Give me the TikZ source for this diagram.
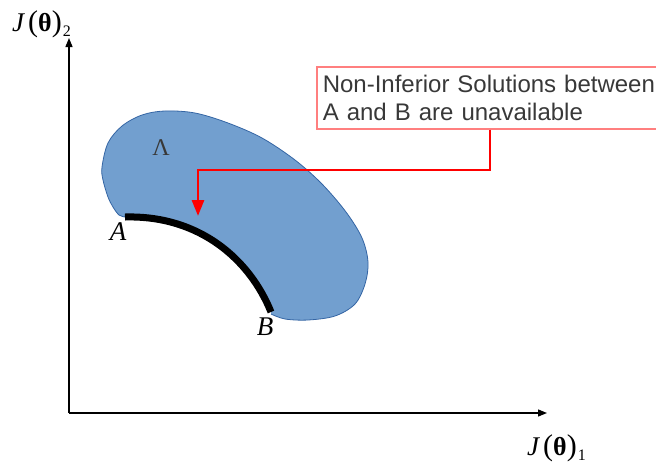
\documentclass[tikz,border=0pt]{standalone}
\usepackage{fontspec}
\setmainfont{Liberation Sans}
\newfontfamily\lserif{Liberation Serif}
\usetikzlibrary{arrows.meta}
\newcommand\Jlab[1]{{\lserif\fontsize{27}{27}\selectfont\textit{J}\hspace{3pt}{\fontsize{30}{30}\selectfont(}{\fontsize{26}{26}\selectfont\bfseries θ}{\fontsize{30}{30}\selectfont)}\hspace{1pt}\raisebox{-5pt}{\fontsize{16}{16}\selectfont #1}}}
\definecolor{blobfill}{HTML}{729FCF}
\definecolor{blobline}{HTML}{3465A4}
\definecolor{boxline}{HTML}{FF7F7F}
\begin{document}
\begin{tikzpicture}[x=1pt,y=-1pt,
  axis/.style={line width=1.3pt,-{Triangle[length=9pt,width=7pt]}},
  front/.style={line width=7pt,black},
  lbl/.style={inner sep=0pt,anchor=base west},
  ptlbl/.style={inner sep=0pt,anchor=base,font=\lserif\itshape\fontsize{27}{27}\selectfont},
  notebox/.style={draw=boxline,line width=1.6pt,anchor=north west,text width=340pt,
    inner xsep=6pt,minimum height=62pt,align=left,text=black!78,
    font=\fontsize{24}{27.5}\selectfont},
  conn/.style={red,line width=2.8pt,-{Triangle[length=16pt,width=12pt]}}]
\useasboundingbox (0,0) rectangle (656,464);
% axes
\coordinate (O) at (69,413);
\coordinate (ytip) at (69,38);
\coordinate (xtip) at (547,413);
\draw[axis] (O) -- (ytip);
\draw[axis] (O) -- (xtip);
\node[lbl] (ylab) at (12,31) {\Jlab{2}};
\node[lbl] (xlab) at (527,455) {\Jlab{1}};
% region
\coordinate (A) at (125,217);
\coordinate (B) at (271,312);
\fill[blobfill] plot[smooth,tension=0.55] coordinates {(271,314) (285,319) (308,320) (335,316) (355,304) (365,284) (368,262) (362,238) (346,212) (322,184) (295,160) (262,138) (228,123) (195,113) (165,111) (142,115) (122,126) (108,143) (102,167) (103,180) (108,197) (113,207) (119,215) (125,217)}
  -- (A) .. controls (200,215) and (250,260) .. (B) -- cycle;
\draw[blobline,line width=0.8pt] plot[smooth,tension=0.55] coordinates {(271,314) (285,319) (308,320) (335,316) (355,304) (365,284) (368,262) (362,238) (346,212) (322,184) (295,160) (262,138) (228,123) (195,113) (165,111) (142,115) (122,126) (108,143) (102,167) (103,180) (108,197) (113,207) (119,215) (125,217)};
\draw[front] (A) .. controls (200,215) and (250,260) .. (B);
\node[inner sep=0pt,anchor=base,text=black!78,font=\lserif\fontsize{24}{24}\selectfont] (lam) at (161,155) {Λ};
\node[ptlbl] (Alab) at (118,240) {A};
\node[ptlbl] (Blab) at (265,335) {B};
% note
\node[notebox] (note) at (316,66) {Non-Inferior Solutions between\\A and B are unavailable};
\coordinate (cx) at (490,0);
\coordinate (bend) at (198,170);
\coordinate (tip) at (198,216);
\draw[conn] (note.south -| cx) |- (bend) -- (tip);
\end{tikzpicture}
\end{document}
